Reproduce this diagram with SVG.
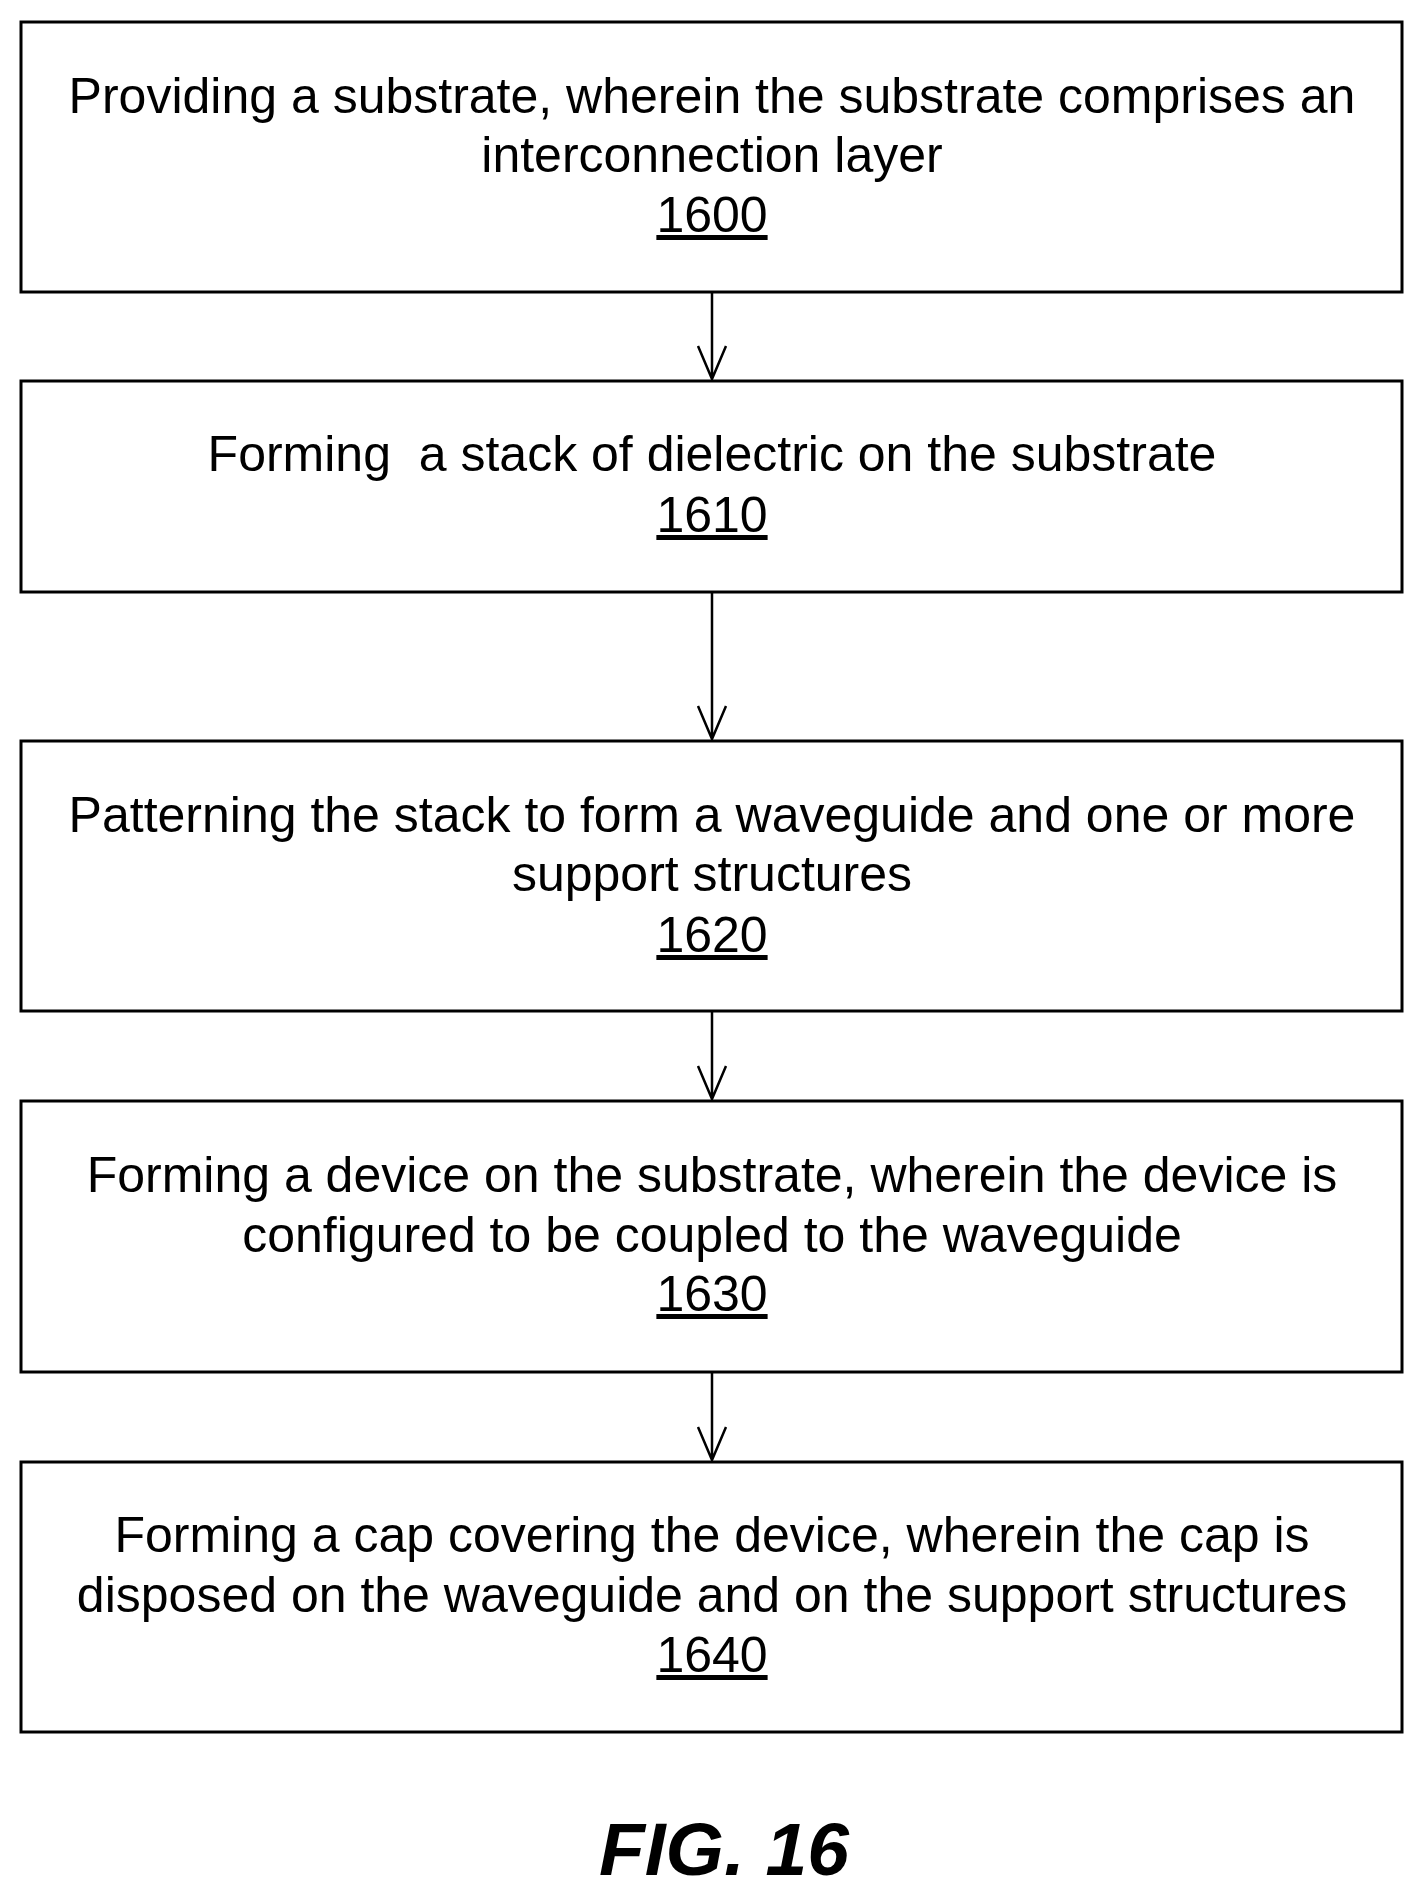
<svg xmlns="http://www.w3.org/2000/svg" width="1424" height="1898" viewBox="0 0 1424 1898">
<style>
.b{fill:#fff;stroke:#000;stroke-width:3}
text{font-family:"Liberation Sans",Arial,sans-serif;font-size:50px;text-anchor:middle;fill:#000}
.n{text-decoration:underline}
.c{stroke:#000;stroke-width:2.5;fill:none}
</style>
<rect width="1424" height="1898" fill="#fff"/>
<g id="n1600"><rect class="b" x="21" y="22" width="1381" height="270"/>
<text x="712" y="113">Providing a substrate, wherein the substrate comprises an</text>
<text x="712" y="172">interconnection layer</text>
<text class="n" x="712" y="232">1600</text></g>
<g id="n1610"><rect class="b" x="21" y="381" width="1381" height="211"/>
<text x="712" y="471" xml:space="preserve">Forming  a stack of dielectric on the substrate</text>
<text class="n" x="712" y="532">1610</text></g>
<g id="n1620"><rect class="b" x="21" y="741" width="1381" height="270"/>
<text x="712" y="832">Patterning the stack to form a waveguide and one or more</text>
<text x="712" y="891">support structures</text>
<text class="n" x="712" y="952">1620</text></g>
<g id="n1630"><rect class="b" x="21" y="1101" width="1381" height="271"/>
<text x="712" y="1192">Forming a device on the substrate, wherein the device is</text>
<text x="712" y="1252">configured to be coupled to the waveguide</text>
<text class="n" x="712" y="1311">1630</text></g>
<g id="n1640"><rect class="b" x="21" y="1462" width="1381" height="270"/>
<text x="712" y="1552">Forming a cap covering the device, wherein the cap is</text>
<text x="712" y="1612">disposed on the waveguide and on the support structures</text>
<text class="n" x="712" y="1672">1640</text></g>
<g id="connectors">
<path class="c" d="M712 292V379M698 346L712 379L726 346"/>
<path class="c" d="M712 592V739M698 706L712 739L726 706"/>
<path class="c" d="M712 1011V1099M698 1066L712 1099L726 1066"/>
<path class="c" d="M712 1372V1460M698 1427L712 1460L726 1427"/>
</g>
<text x="724" y="1875" style="font-size:75px;font-weight:bold;font-style:italic">FIG. 16</text>
</svg>
